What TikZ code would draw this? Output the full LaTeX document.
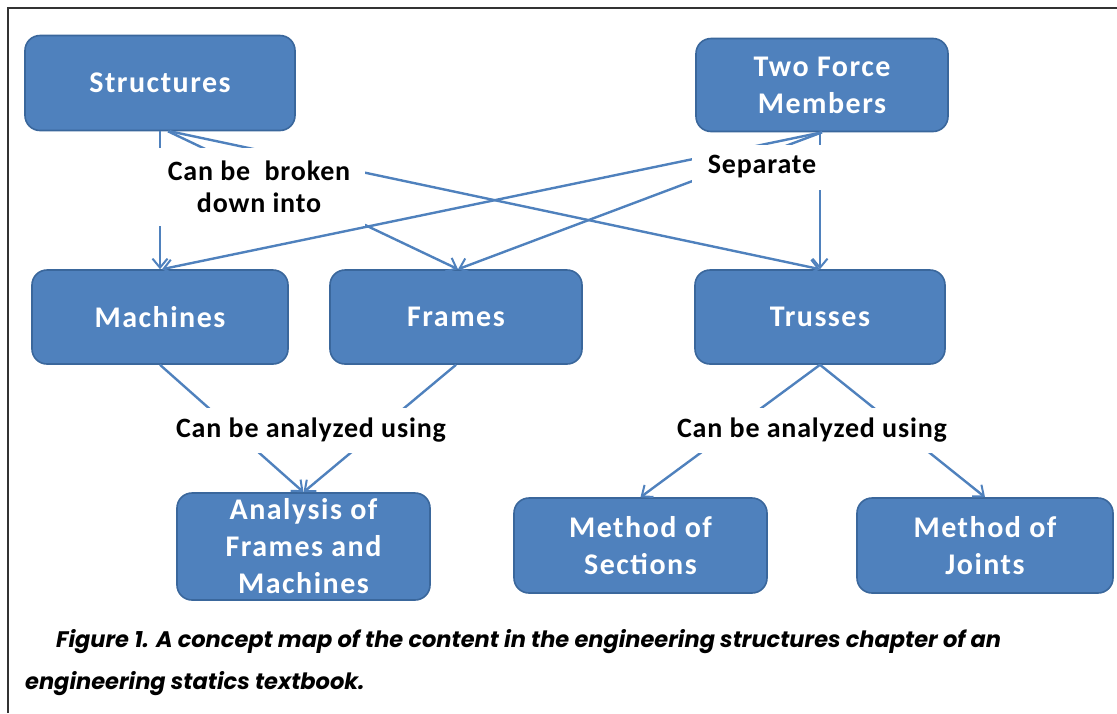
\documentclass[tikz,border=0pt]{standalone}
\usepackage{fontspec}
\usetikzlibrary{arrows.meta}
\newfontfamily\boxfont{Carlito}[LetterSpace=5]
\newfontfamily\linkfont{Carlito}[LetterSpace=3]
\newfontfamily\capfont{Poppins}
\definecolor{cmapfill}{HTML}{4F81BD}
\definecolor{cmapedge}{HTML}{3A679C}
\definecolor{framegray}{HTML}{333333}
\tikzset{
  concept/.style={draw=cmapedge, line width=1.6pt, fill=cmapfill, rounded corners=15pt,
    text=white, font=\boxfont\bfseries\fontsize{30}{37}\selectfont, align=center,
    inner sep=0pt},
  linking/.style={fill=white, text=black, font=\linkfont\bfseries\fontsize{28}{32}\selectfont,
    align=center, inner sep=0pt},
  conn/.style={draw=cmapfill, line width=2.4pt,
    -{Straight Barb[length=9pt,width=15pt,line width=2pt]}},
  capline/.style={anchor=base west, inner sep=0pt, text=black,
    font=\capfont\bfseries\itshape\fontsize{22.5}{24}\selectfont}
}
\begin{document}
\begin{tikzpicture}[x=1pt,y=-1pt]
\useasboundingbox (0,0) rectangle (1117,713);
% page frame
\draw[framegray, line width=1.5pt] (8,713) -- (8,8) -- (1117,8);

% concepts
\node[concept, minimum width=270pt, minimum height=95pt] (struct) at (160,83) {Structures};
\node[concept, minimum width=252pt, minimum height=93pt] (twoforce) at (822,85) {Two Force\\Members};
\node[concept, minimum width=256pt, minimum height=94pt] (mach) at (160,317) {Machines};
\node[concept, minimum width=252pt, minimum height=94pt] (frames) at (456,317) {Frames};
\node[concept, minimum width=250pt, minimum height=94pt] (truss) at (820,317) {Trusses};
\node[concept, minimum width=253pt, minimum height=107pt] (afm) at (303.5,546.5) {Analysis of\\Frames and\\Machines};
\node[concept, minimum width=253pt, minimum height=95pt] (sect) at (640.5,545.5) {Method of\\Sections};
\node[concept, minimum width=256pt, minimum height=95pt] (joint) at (985,545.5) {Method of\\Joints};

% connectors
\draw[conn] (struct.south) -- (mach.north);
\draw[conn] ([xshift=8pt]struct.south) -- ([xshift=2pt]frames.north);
\draw[conn] ([xshift=10pt]struct.south) -- (truss.north);
\draw[conn] (twoforce.south) -- ([xshift=2pt]mach.north);
\draw[conn] (twoforce.south) -- ([xshift=2pt]frames.north);
\draw[conn] ([xshift=-2pt]twoforce.south) -- (truss.north);
\draw[conn] (mach.south) -- (afm.north);
\draw[conn] (frames.south) -- (afm.north);
\draw[conn] (truss.south) -- (sect.north);
\draw[conn] (truss.south) -- (joint.north);

% linking phrases
\node[linking, minimum width=212pt, minimum height=78pt] (broken) at (259,187) {Can be\ \ broken\\down into};
\node[linking, minimum width=140pt, minimum height=45pt] (separate) at (762,167) {Separate};
\node[linking, minimum width=300pt, minimum height=45pt] (usingL) at (311,430) {Can be analyzed using};
\node[linking, minimum width=300pt, minimum height=45pt] (usingR) at (812,430) {Can be analyzed using};

% caption
\node[capline] (cap1) at (56,647) {Figure 1. A concept map of the content in the engineering structures chapter of an};
\node[capline] (cap2) at (25,689) {engineering statics textbook.};
\end{tikzpicture}
\end{document}
